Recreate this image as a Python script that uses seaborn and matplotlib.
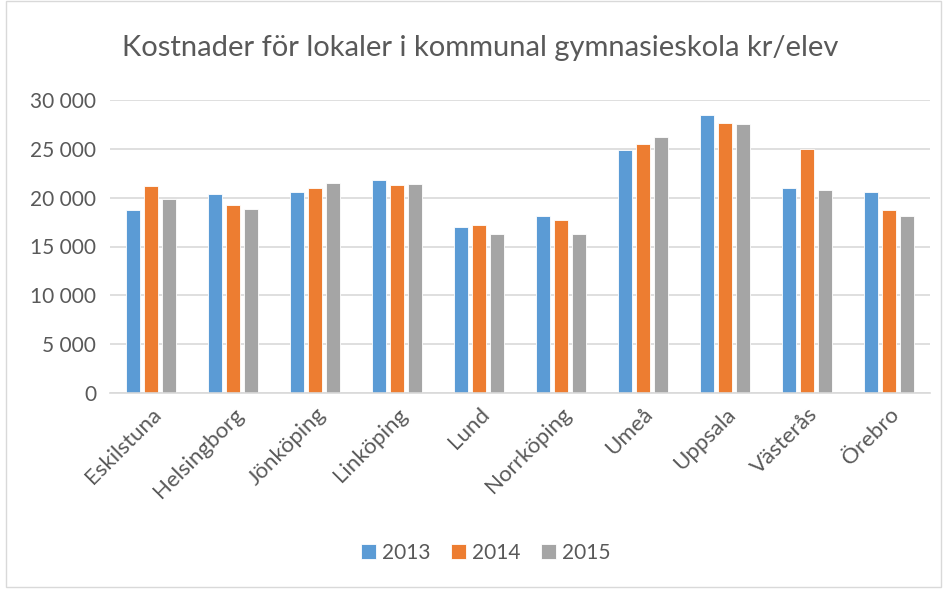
import seaborn as sns
import matplotlib.pyplot as plt
import pandas as pd
from matplotlib.ticker import FuncFormatter
from matplotlib.patches import Rectangle

kommuner = ['Eskilstuna', 'Helsingborg', 'Jönköping', 'Linköping', 'Lund',
            'Norrköping', 'Umeå', 'Uppsala', 'Västerås', 'Örebro']
ar = ['2013', '2014', '2015']
v2013 = [18700, 20400, 20610, 21800, 17020, 18170, 24870, 28430, 20980, 20610]
v2014 = [21190, 19280, 20950, 21290, 17250, 17730, 25480, 27610, 24970, 18700]
v2015 = [19860, 18870, 21540, 21360, 16230, 16300, 26200, 27540, 20810, 18120]
farger = ['#5B9BD5', '#ED7D31', '#A5A5A5']

df = pd.DataFrame({'kommun': kommuner * 3,
                   'ar': [a for a in ar for _ in kommuner],
                   'kostnad': v2013 + v2014 + v2015})

sns.set_style('white')
plt.rcParams['font.family'] = ['Lato', 'DejaVu Sans']

fig = plt.figure(figsize=(9.45, 5.9), dpi=100)
ax = fig.add_axes([110 / 945, 1 - 393 / 590, 820 / 945, 293 / 590])

sns.barplot(data=df, x='kommun', y='kostnad', hue='ar', palette=farger,
            saturation=1, width=0.66, gap=0.2, ax=ax,
            edgecolor='white', linewidth=0.6)

ax.set_ylim(0, 30000)
ax.set_yticks(range(0, 30001, 5000))
ax.yaxis.set_major_formatter(FuncFormatter(lambda v, p: f'{int(v):,}'.replace(',', ' ')))
ax.grid(axis='y', color='#D9D9D9', linewidth=1.2)
ax.set_axisbelow(True)
for s in ['top', 'right', 'left']:
    ax.spines[s].set_visible(False)
ax.spines['bottom'].set_color('#D9D9D9')
ax.spines['bottom'].set_linewidth(1.2)
ax.set_xlabel('')
ax.set_ylabel('')
ax.tick_params(axis='y', length=0, labelsize=15, colors='#595959', pad=10)
ax.tick_params(axis='x', length=0, labelsize=16, colors='#595959', pad=8)
plt.setp(ax.get_xticklabels(), rotation=45, ha='right', rotation_mode='anchor')

fig.suptitle('Kostnader för lokaler i kommunal gymnasieskola kr/elev',
             x=0.508, y=1 - 48 / 590, va='center', fontsize=21, color='#595959')

ax.legend(loc='center', bbox_to_anchor=(486 / 945, 1 - 553 / 590),
          bbox_transform=fig.transFigure, ncol=3,
          frameon=False, fontsize=15, handlelength=0.7, handleheight=0.7,
          handletextpad=0.3, columnspacing=1.0, labelcolor='#595959')

fig.add_artist(Rectangle((0.006, 0.005), 0.99, 0.993, transform=fig.transFigure,
                         fill=False, edgecolor='#D9D9D9', linewidth=1))

fig.savefig('out.png', dpi=100)
